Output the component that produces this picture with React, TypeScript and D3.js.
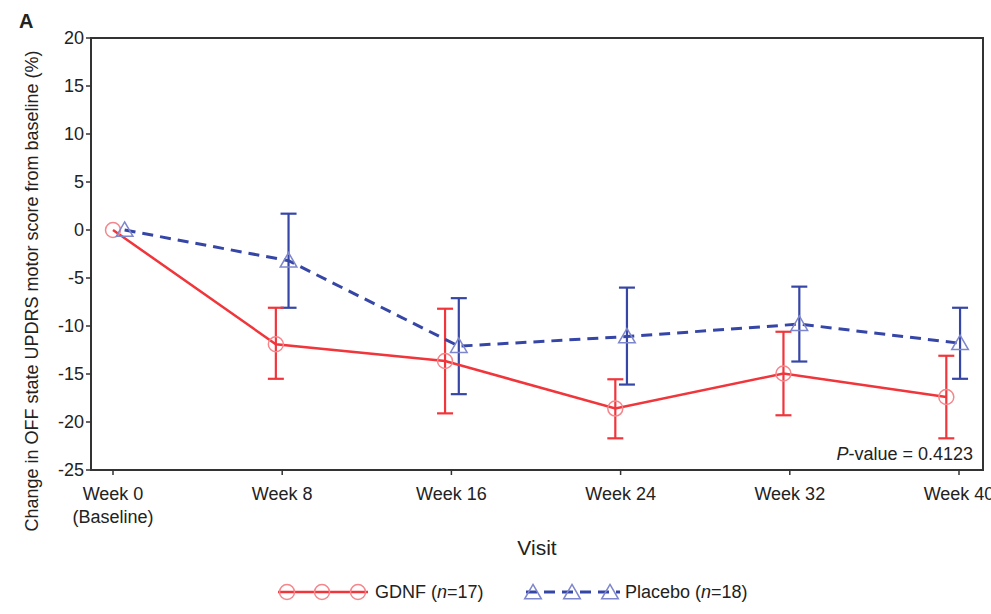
import React from "react";
import * as d3 from "d3";

// ---- data ----
const visits = [0, 8, 16, 24, 32, 40];
const visitLabels = ["Week 0", "Week 8", "Week 16", "Week 24", "Week 32", "Week 40"];
const yTicks = [20, 15, 10, 5, 0, -5, -10, -15, -20, -25];

// plotted (dodged) visit positions, in weeks
const gdnfX = [0, 7.7, 15.7, 23.75, 31.7, 39.4];
const placeboX = [0.55, 8.3, 16.35, 24.3, 32.45, 40.05];

const gdnfMean = [0, -11.9, -13.65, -18.6, -14.95, -17.4];
const gdnfLow = [0, -15.5, -19.1, -21.7, -19.3, -21.7];
const gdnfHigh = [0, -8.1, -8.2, -15.55, -10.6, -13.1];

const placeboMean = [0, -3.2, -12.1, -11.1, -9.8, -11.8];
const placeboLow = [0, -8.1, -17.1, -16.1, -13.7, -15.5];
const placeboHigh = [0, 1.7, -7.1, -6.0, -5.9, -8.1];

const W = 991;
const H = 614;
const frame = { left: 91, right: 983, top: 38, bottom: 470 };

const RED = "#f0353b";
const RED_LIGHT = "#f5868b";
const BLUE = "#3646a6";
const BLUE_LIGHT = "#7e86cc";
const FONT = "'Liberation Sans', Arial, Helvetica, sans-serif";

export default function App() {
  const x = d3.scaleLinear().domain([0, 40]).range([113, 959]);
  const y = d3.scaleLinear().domain([-25, 20]).range([frame.bottom, frame.top]);

  const gdnfLine = d3
    .line<number>()
    .x((_, i) => x(gdnfX[i]))
    .y((d) => y(d))(gdnfMean) as string;
  const placeboLine = d3
    .line<number>()
    .x((_, i) => x(placeboX[i]))
    .y((d) => y(d))(placeboMean) as string;

  const tri = d3.symbol(d3.symbolTriangle, 120)() as string;
  const cap = 8;

  const errBars = (
    xs: number[],
    lo: number[],
    hi: number[],
    color: string,
    key: string
  ) =>
    xs.map((xv, i) =>
      lo[i] === hi[i] ? null : (
        <g key={key + i} stroke={color} strokeWidth={2.2} fill="none">
          <line x1={x(xv)} x2={x(xv)} y1={y(lo[i])} y2={y(hi[i])} />
          <line x1={x(xv) - cap} x2={x(xv) + cap} y1={y(lo[i])} y2={y(lo[i])} />
          <line x1={x(xv) - cap} x2={x(xv) + cap} y1={y(hi[i])} y2={y(hi[i])} />
        </g>
      )
    );

  return (
    <svg
      width={W}
      height={H}
      style={{ position: "absolute", left: 0, top: 0, background: "#fff" }}
      fontFamily={FONT}
    >
      <rect x={0} y={0} width={W} height={H} fill="#fff" />
      <text x={19} y={28} fontSize={20} fontWeight="bold" fill="#222">
        A
      </text>

      {/* frame */}
      <rect
        x={frame.left}
        y={frame.top}
        width={frame.right - frame.left}
        height={frame.bottom - frame.top}
        fill="none"
        stroke="#333"
        strokeWidth={2}
      />

      {/* y axis ticks */}
      {yTicks.map((t) => (
        <g key={"yt" + t}>
          <line x1={frame.left - 5} x2={frame.left} y1={y(t)} y2={y(t)} stroke="#333" strokeWidth={1.5} />
          <text x={84} y={y(t)} dy="0.35em" textAnchor="end" fontSize={18} fill="#222">
            {t}
          </text>
        </g>
      ))}

      {/* x axis ticks */}
      {visits.map((v, i) => (
        <g key={"xt" + v}>
          <line x1={x(v)} x2={x(v)} y1={frame.bottom} y2={frame.bottom + 5} stroke="#333" strokeWidth={1.5} />
          <text x={x(v)} y={500} textAnchor="middle" fontSize={18} fill="#222">
            {visitLabels[i]}
          </text>
        </g>
      ))}
      <text x={x(0)} y={523} textAnchor="middle" fontSize={18} fill="#222">
        (Baseline)
      </text>

      {/* axis titles */}
      <text x={537} y={555} textAnchor="middle" fontSize={21} fill="#222">
        Visit
      </text>
      <text
        transform={`translate(38, 291) rotate(-90)`}
        textAnchor="middle"
        fontSize={18}
        fill="#222"
      >
        Change in OFF state UPDRS motor score from baseline (%)
      </text>

      {/* error bars */}
      {errBars(placeboX, placeboLow, placeboHigh, BLUE, "pe")}
      {errBars(gdnfX, gdnfLow, gdnfHigh, RED, "ge")}

      {/* lines */}
      <path d={placeboLine} fill="none" stroke={BLUE} strokeWidth={3} strokeDasharray="11 7" />
      <path d={gdnfLine} fill="none" stroke={RED} strokeWidth={2.5} />

      {/* markers */}
      {gdnfMean.map((m, i) => (
        <circle key={"gc" + i} cx={x(gdnfX[i])} cy={y(m)} r={7.5} fill="none" stroke={RED_LIGHT} strokeWidth={1.5} />
      ))}
      {placeboMean.map((m, i) => (
        <path
          key={"pt" + i}
          d={tri}
          transform={`translate(${x(placeboX[i])},${y(m) + 1.5})`}
          fill="none"
          stroke={BLUE_LIGHT}
          strokeWidth={1.5}
        />
      ))}

      {/* p-value */}
      <text x={973} y={460} textAnchor="end" fontSize={18} fill="#222">
        <tspan fontStyle="italic">P</tspan>
        <tspan>-value = 0.4123</tspan>
      </text>

      {/* legend */}
      <g>
        <line x1={278} x2={368} y1={592} y2={592} stroke={RED} strokeWidth={2.5} />
        {[287, 322, 358].map((cx) => (
          <circle key={"lc" + cx} cx={cx} cy={592} r={7.5} fill="none" stroke={RED_LIGHT} strokeWidth={1.5} />
        ))}
        <text x={375} y={598} fontSize={18} fill="#222">
          GDNF (<tspan fontStyle="italic">n</tspan>=17)
        </text>

        <line x1={526} x2={620} y1={592} y2={592} stroke={BLUE} strokeWidth={3} strokeDasharray="11 7" />
        {[533, 572, 610].map((cx) => (
          <path key={"lt" + cx} d={tri} transform={`translate(${cx},${594})`} fill="none" stroke={BLUE_LIGHT} strokeWidth={1.5} />
        ))}
        <text x={625} y={598} fontSize={18} fill="#222">
          Placebo (<tspan fontStyle="italic">n</tspan>=18)
        </text>
      </g>
    </svg>
  );
}
